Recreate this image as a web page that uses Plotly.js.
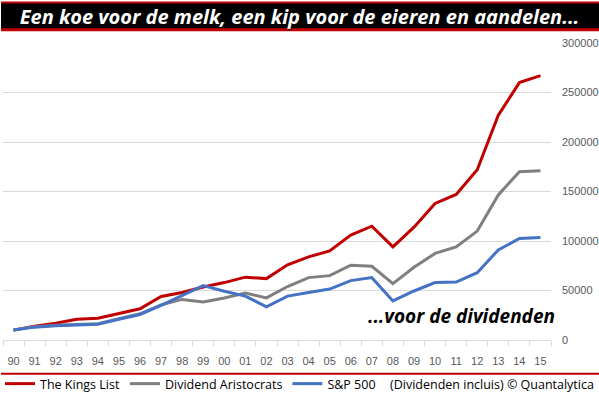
<!DOCTYPE html>
<html><head><meta charset="utf-8">
<script src="https://cdn.plot.ly/plotly-3.0.1.min.js"></script>
<style>html,body{margin:0;padding:0;background:#fff;}</style>
</head><body><div id="chart" style="width:599px;height:399px;"></div>
<script>
const years = ["90","91","92","93","94","95","96","97","98","99","00","01","02","03","04","05","06","07","08","09","10","11","12","13","14","15"];
const kingsList = [10000,14000,17000,21000,22000,27000,31500,44000,48000,53500,58000,63500,62000,76000,84000,90000,106000,115000,94000,114000,138000,147000,172000,227000,260000,267000];
const aristocrats = [10000,13500,14900,15900,16400,21500,26500,35500,41000,38500,42500,47500,42500,54000,63000,65000,75500,74500,57000,73500,87500,94000,110000,146500,170000,171000];
const sp500 = [10000,13000,14400,15400,15800,21000,25800,35000,45000,55000,49300,44300,33500,44300,48000,51500,60000,63000,39500,49500,58000,58500,68000,91000,102500,103500];
const seriesNames = ["The Kings List","Dividend Aristocrats","S&P 500"];
const seriesColors = ["#C00000","#7F7F7F","#4472C4"];
const yTicks = [0,50000,100000,150000,200000,250000,300000];
const titleText = "Een koe voor de melk, een kip voor de eieren en aandelen...";
const subText = "...voor de dividenden";
const noteText = "(Dividenden incluis) © Quantalytica";

const series = [kingsList, aristocrats, sp500];
const traces = series.map((vals,i)=>({
  type:'scatter', mode:'lines', x:years, y:vals, name:seriesNames[i],
  line:{color:seriesColors[i], width:3}
}));

// pixel helpers for decorations (plot area: y 43..344)
const plotW = 551, plotTop = 43, plotBottom = 344;
const py = p => (plotBottom - p)/(plotBottom - plotTop);
const px = p => p / plotW;

const layout = {
  width:599, height:399,
  margin:{l:0, r:48, t:43, b:55, pad:0},
  paper_bgcolor:'#fff', plot_bgcolor:'#fff',
  font:{family:'Liberation Sans, Arial, sans-serif', color:'#595959', size:11},
  hovermode:false,
  title:{
    text:titleText,
    font:{family:'Open Sans, sans-serif', size:20, color:'#fff', weight:700, style:'italic', shadow:'1px 1px 1px #000'},
    x:0.5, xref:'container', xanchor:'center',
    y:1-16.5/399, yref:'container', yanchor:'middle'
  },
  xaxis:{
    type:'category', tickson:'boundaries', ticks:'outside', ticklen:5,
    tickcolor:'#d9d9d9', tickwidth:1, showline:true, linecolor:'#d9d9d9', linewidth:1,
    showgrid:false, zeroline:false, range:[-0.5,25.5], tickangle:0,
    tickfont:{size:11, color:'#595959'}, ticklabelstandoff:11
  },
  yaxis:{
    side:'right', range:[0,300000], tickmode:'array', tickvals:yTicks,
    ticktext:yTicks.map(String), showgrid:true, gridcolor:'#d9d9d9', gridwidth:1,
    zeroline:false, showline:false, ticks:'', ticklabelstandoff:10,
    tickfont:{size:11, color:'#595959'}
  },
  showlegend:true,
  legend:{
    orientation:'h', x:px(-3), xanchor:'left', y:py(389), yanchor:'middle',
    font:{size:12.5, color:'#000', family:'Open Sans, sans-serif'},
    bgcolor:'rgba(0,0,0,0)', borderwidth:0, itemwidth:30
  },
  shapes:[
    {type:'rect', xref:'paper', yref:'paper', x0:px(-2), x1:px(602), y0:py(31), y1:py(1), fillcolor:'#C00000', line:{width:0}, layer:'above'},
    {type:'rect', xref:'paper', yref:'paper', x0:px(-2), x1:px(602), y0:py(28), y1:py(3), fillcolor:'#000000', line:{width:0}, layer:'above'},
    {type:'line', xref:'paper', yref:'paper', x0:px(-2), x1:px(602), y0:py(378.3), y1:py(378.3), line:{color:'#C00000', width:2}}
  ],
  annotations:[
    {text:subText, xref:'paper', yref:'paper', x:px(557), y:py(320), xanchor:'right', yanchor:'middle', showarrow:false,
     font:{family:'Open Sans, sans-serif', size:19, color:'#000', weight:700, style:'italic'}},
    {text:noteText, xref:'paper', yref:'paper', x:px(596), y:py(389), xanchor:'right', yanchor:'middle', showarrow:false,
     font:{family:'Open Sans, sans-serif', size:12.5, color:'#000'}}
  ]
};
Plotly.newPlot('chart', traces, layout, {staticPlot:true, displayModeBar:false});
</script>
</body></html>
